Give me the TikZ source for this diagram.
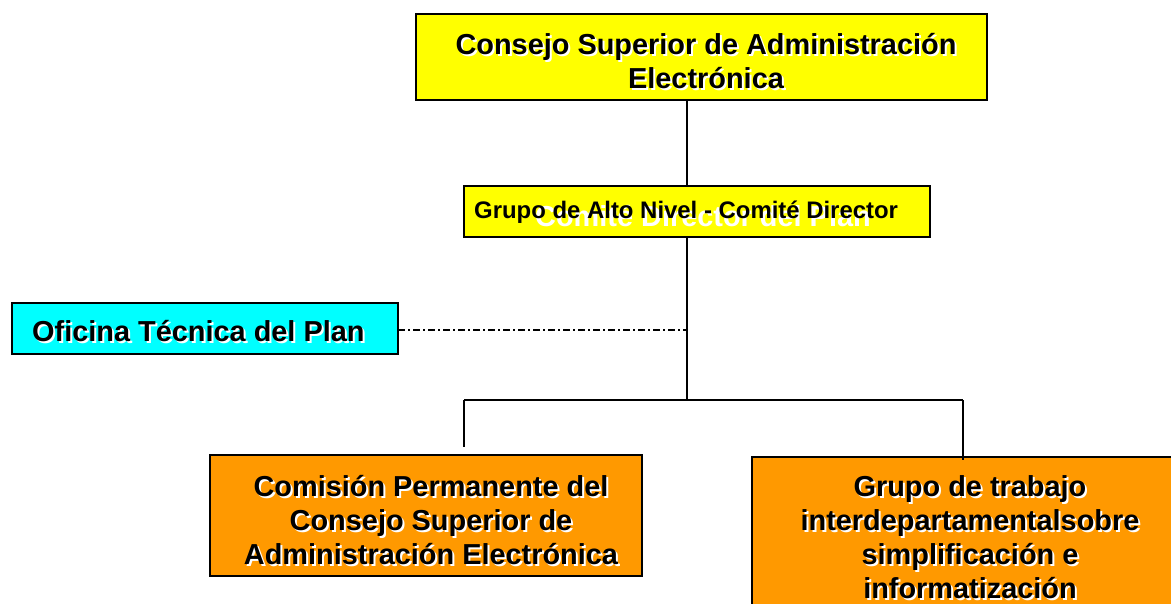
\documentclass[tikz,border=0pt]{standalone}
\usepackage{fontspec}
\setmainfont{Liberation Sans}
\usetikzlibrary{calc,positioning}

\definecolor{amarillo}{HTML}{FFFF00}
\definecolor{celeste}{HTML}{00FFFF}
\definecolor{naranja}{HTML}{FF9900}

\tikzset{
  caja/.style = {draw, line width=2.5bp, inner sep=0pt, outer sep=0pt},
  conector/.style = {draw, line width=2bp},
  punteada/.style = {draw, line width=1.6bp, dash pattern=on 7bp off 3bp on 2bp off 3bp},
  rotulo/.style = {font=\bfseries\fontsize{29}{34}\selectfont, align=center, inner sep=0pt},
  sombra/.style = {rotulo, text=white},
}

% texto con sombra blanca
\newcommand{\textosombra}[3]{%
  \node[sombra, #1] at ($(#2)+(2,2)$) {#3};
  \node[rotulo, #1] at (#2) {#3};}

\begin{document}
\begin{tikzpicture}[x=1bp, y=-1bp]
  \useasboundingbox (0,0) rectangle (1171,604);
  \fill[white] (0,0) rectangle (1171,604);
  \clip (0,0) rectangle (1171,604);

  % cajas
  \node [caja, fill=amarillo, minimum width=571bp, minimum height=86bp] (consejo) at (701.5,57) {};
  \node [caja, fill=amarillo, minimum width=466bp, minimum height=51bp] (grupo) at (697,211.5) {};
  \node [caja, fill=celeste, minimum width=386bp, minimum height=51bp] (oficina) at (205,328.5) {};
  \node [caja, fill=naranja, minimum width=432bp, minimum height=121bp] (comision) at (426,515.5) {};
  \node [caja, fill=naranja, minimum width=460bp, minimum height=180bp] (trabajo) at (982,547) {};

  % ejes de los conectores
  \coordinate (eje) at (687,0);
  \coordinate (ramal) at (687,400);
  \coordinate (ramal-izq) at (464,400);
  \coordinate (ramal-der) at (963,400);
  \coordinate (fin-izq) at (464,447);

  \draw [conector] (consejo.south -| eje) -- (grupo.north -| eje);
  \draw [conector] (grupo.south -| eje) -- (ramal);
  \draw [conector] (ramal-izq) -- (ramal-der);
  \draw [conector] (ramal-izq) -- (fin-izq);
  \draw [conector] (ramal-der) -- ([yshift=-3bp]trabajo.north -| ramal-der);
  \draw [punteada] ([yshift=-1.5bp]oficina.east) -- ([yshift=-1.5bp]oficina.east -| eje);

  % textos
  \node [rotulo, text=white] (fantasma) at (703,216) {Comité Director del Plan};
  \node [rotulo, font=\bfseries\fontsize{24}{28}\selectfont, anchor=west] (grupo-txt) at (474,212) {Grupo de Alto Nivel - Comité Director};
  \textosombra{}{706,61}{Consejo Superior de Administración\\Electrónica}
  \textosombra{anchor=west}{32,331}{Oficina Técnica del Plan}
  \textosombra{}{431,520}{Comisión Permanente del\\Consejo Superior de\\Administración Electrónica}
  \textosombra{}{970,537}{Grupo de trabajo\\interdepartamentalsobre\\simplificación e\\informatización}
\end{tikzpicture}
\end{document}
